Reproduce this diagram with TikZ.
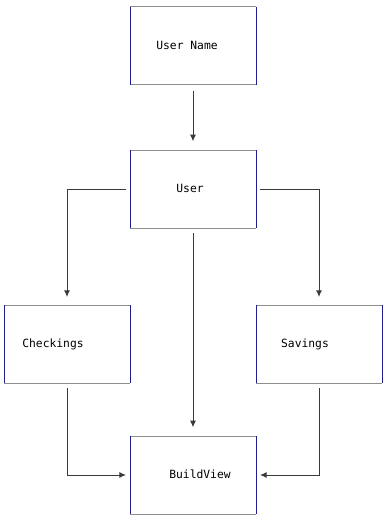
\documentclass[tikz,border=0pt]{standalone}
\usepackage{fontspec}
\setmonofont{DejaVu Sans Mono}
\usetikzlibrary{arrows.meta, positioning}
\definecolor{cnavy}{HTML}{1F1F8F}
\definecolor{cedge}{HTML}{8E8E8E}
\definecolor{cline}{HTML}{3A3A3A}
\tikzset{
  every picture/.style={font=\ttfamily\fontsize{8.5}{10}\selectfont, line width=0.75pt},
  box/.style={minimum width=94.5pt, minimum height=58.5pt, inner sep=0pt, outer sep=0pt},
  arrow/.style={-{Latex[length=5pt,width=4.5pt]}, draw=cline},
}
\begin{document}
\begin{tikzpicture}[x=0.75pt, y=-0.75pt]
  \useasboundingbox (0,0) rectangle (386,521);

  % ---- boxes
  \node[box] (uname) at (193,45.5) {};
  \node[box] (user)  at (193,189)  {};
  \node[box] (check) at (67,344)   {};
  \node[box] (save)  at (319,344)  {};
  \node[box] (build) at (193,475)  {};
  \foreach \b in {uname, user, check, save, build} {
    \draw[cedge] (\b.north west) -- (\b.north east) (\b.south west) -- (\b.south east);
    \draw[cnavy] (\b.north west) -- (\b.south west) (\b.north east) -- (\b.south east);
  }

  % ---- labels
  \node (t-uname) at (187,45)  {User Name};
  \node (t-user)  at (190,188) {User};
  \node (t-check) at (53,344)  {Checkings};
  \node (t-save)  at (305,344) {Savings};
  \node (t-build) at (200,474) {BuildView};

  % ---- connectors
  \draw[arrow] ([yshift=-4.5pt]uname.south) -- ([yshift=6.5pt]user.north);
  \draw[arrow] ([xshift=-3pt]user.west) -| ([yshift=6pt]check.north);
  \draw[arrow] ([xshift=3pt]user.east) -| ([yshift=6pt]save.north);
  \draw[arrow] ([yshift=-4pt]user.south) -- ([yshift=6.5pt]build.north);
  \draw[arrow] ([yshift=-4pt]check.south) |- ([xshift=-3pt]build.west);
  \draw[arrow] ([yshift=-4pt]save.south) |- ([xshift=3pt]build.east);
\end{tikzpicture}
\end{document}
